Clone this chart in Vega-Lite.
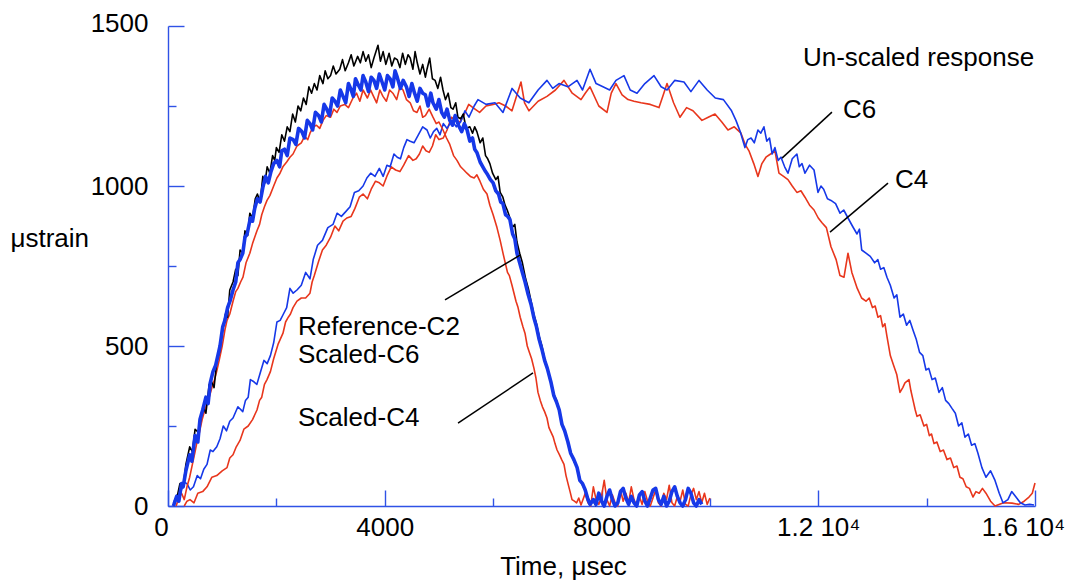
{
  "$schema": "https://vega.github.io/schema/vega-lite/v6.json",
  "width": 867,
  "height": 480,
  "autosize": "none",
  "padding": {"left": 168, "top": 26, "right": 40, "bottom": 76},
  "background": "white",
  "config": {"view": {"stroke": null}, "font": "Liberation Sans"},
  "datasets": {
    "curves": [
      {"s":"RefC2","t":100,"v":0},{"s":"RefC2","t":170,"v":30},{"s":"RefC2","t":220,"v":70},{"s":"RefC2","t":280,"v":60},{"s":"RefC2","t":330,"v":130},{"s":"RefC2","t":400,"v":185},{"s":"RefC2","t":450,"v":170},{"s":"RefC2","t":500,"v":240},{"s":"RefC2","t":560,"v":230},{"s":"RefC2","t":650,"v":310},{"s":"RefC2","t":700,"v":290},{"s":"RefC2","t":760,"v":380},{"s":"RefC2","t":800,"v":390},{"s":"RefC2","t":850,"v":370},{"s":"RefC2","t":900,"v":450},{"s":"RefC2","t":950,"v":480},{"s":"RefC2","t":1000,"v":540},{"s":"RefC2","t":1060,"v":600},{"s":"RefC2","t":1100,"v":590},{"s":"RefC2","t":1140,"v":675},{"s":"RefC2","t":1200,"v":700},{"s":"RefC2","t":1250,"v":740},{"s":"RefC2","t":1290,"v":720},{"s":"RefC2","t":1330,"v":800},{"s":"RefC2","t":1380,"v":790},{"s":"RefC2","t":1420,"v":860},{"s":"RefC2","t":1470,"v":845},{"s":"RefC2","t":1510,"v":915},{"s":"RefC2","t":1560,"v":900},{"s":"RefC2","t":1610,"v":960},{"s":"RefC2","t":1650,"v":975},{"s":"RefC2","t":1700,"v":950},{"s":"RefC2","t":1750,"v":1030},{"s":"RefC2","t":1790,"v":1010},{"s":"RefC2","t":1830,"v":1060},{"s":"RefC2","t":1880,"v":1040},{"s":"RefC2","t":1930,"v":1095},{"s":"RefC2","t":1970,"v":1080},{"s":"RefC2","t":2000,"v":1120},{"s":"RefC2","t":2050,"v":1105},{"s":"RefC2","t":2100,"v":1160},{"s":"RefC2","t":2150,"v":1140},{"s":"RefC2","t":2200,"v":1185},{"s":"RefC2","t":2250,"v":1170},{"s":"RefC2","t":2300,"v":1225},{"s":"RefC2","t":2350,"v":1200},{"s":"RefC2","t":2400,"v":1250},{"s":"RefC2","t":2450,"v":1235},{"s":"RefC2","t":2500,"v":1275},{"s":"RefC2","t":2550,"v":1255},{"s":"RefC2","t":2600,"v":1310},{"s":"RefC2","t":2650,"v":1290},{"s":"RefC2","t":2700,"v":1320},{"s":"RefC2","t":2750,"v":1300},{"s":"RefC2","t":2800,"v":1345},{"s":"RefC2","t":2860,"v":1320},{"s":"RefC2","t":2900,"v":1360},{"s":"RefC2","t":2950,"v":1335},{"s":"RefC2","t":3000,"v":1345},{"s":"RefC2","t":3050,"v":1375},{"s":"RefC2","t":3100,"v":1350},{"s":"RefC2","t":3170,"v":1365},{"s":"RefC2","t":3220,"v":1395},{"s":"RefC2","t":3270,"v":1360},{"s":"RefC2","t":3330,"v":1385},{"s":"RefC2","t":3380,"v":1410},{"s":"RefC2","t":3430,"v":1375},{"s":"RefC2","t":3500,"v":1405},{"s":"RefC2","t":3550,"v":1385},{"s":"RefC2","t":3600,"v":1420},{"s":"RefC2","t":3650,"v":1390},{"s":"RefC2","t":3700,"v":1410},{"s":"RefC2","t":3750,"v":1370},{"s":"RefC2","t":3800,"v":1400},{"s":"RefC2","t":3875,"v":1440},{"s":"RefC2","t":3920,"v":1390},{"s":"RefC2","t":3970,"v":1420},{"s":"RefC2","t":4020,"v":1380},{"s":"RefC2","t":4080,"v":1415},{"s":"RefC2","t":4130,"v":1375},{"s":"RefC2","t":4180,"v":1400},{"s":"RefC2","t":4230,"v":1395},{"s":"RefC2","t":4280,"v":1370},{"s":"RefC2","t":4330,"v":1415},{"s":"RefC2","t":4380,"v":1380},{"s":"RefC2","t":4430,"v":1410},{"s":"RefC2","t":4470,"v":1400},{"s":"RefC2","t":4520,"v":1365},{"s":"RefC2","t":4560,"v":1420},{"s":"RefC2","t":4600,"v":1385},{"s":"RefC2","t":4650,"v":1350},{"s":"RefC2","t":4700,"v":1380},{"s":"RefC2","t":4750,"v":1340},{"s":"RefC2","t":4780,"v":1365},{"s":"RefC2","t":4830,"v":1400},{"s":"RefC2","t":4880,"v":1335},{"s":"RefC2","t":4930,"v":1330},{"s":"RefC2","t":4980,"v":1305},{"s":"RefC2","t":5030,"v":1340},{"s":"RefC2","t":5075,"v":1300},{"s":"RefC2","t":5120,"v":1270},{"s":"RefC2","t":5170,"v":1290},{"s":"RefC2","t":5220,"v":1245},{"s":"RefC2","t":5260,"v":1240},{"s":"RefC2","t":5310,"v":1260},{"s":"RefC2","t":5350,"v":1215},{"s":"RefC2","t":5400,"v":1210},{"s":"RefC2","t":5450,"v":1225},{"s":"RefC2","t":5500,"v":1180},{"s":"RefC2","t":5570,"v":1185},{"s":"RefC2","t":5620,"v":1165},{"s":"RefC2","t":5660,"v":1185},{"s":"RefC2","t":5700,"v":1170},{"s":"RefC2","t":5760,"v":1135},{"s":"RefC2","t":5810,"v":1150},{"s":"RefC2","t":5860,"v":1095},{"s":"RefC2","t":5900,"v":1085},{"s":"RefC2","t":5940,"v":1070},{"s":"RefC2","t":5990,"v":1040},{"s":"RefC2","t":6050,"v":1020},{"s":"RefC2","t":6090,"v":1030},{"s":"RefC2","t":6130,"v":980},{"s":"RefC2","t":6180,"v":965},{"s":"RefC2","t":6220,"v":940},{"s":"RefC2","t":6260,"v":925},{"s":"RefC2","t":6310,"v":900},{"s":"RefC2","t":6350,"v":870},{"s":"RefC2","t":6400,"v":880},{"s":"RefC2","t":6440,"v":825},{"s":"RefC2","t":6490,"v":790},{"s":"RefC2","t":6540,"v":760},{"s":"RefC2","t":6600,"v":710},{"s":"RefC2","t":6650,"v":680},{"s":"RefC2","t":6700,"v":640},{"s":"RefC2","t":6750,"v":600},{"s":"RefC2","t":6800,"v":570},{"s":"RefC2","t":6850,"v":530},{"s":"RefC2","t":6900,"v":500},{"s":"RefC2","t":6950,"v":460},{"s":"RefC2","t":7000,"v":430},{"s":"RefC2","t":7070,"v":385},{"s":"RefC2","t":7120,"v":350},{"s":"RefC2","t":7170,"v":330},{"s":"RefC2","t":7220,"v":300},{"s":"RefC2","t":7270,"v":260},{"s":"RefC2","t":7320,"v":235},{"s":"RefC2","t":7380,"v":200},{"s":"RefC2","t":7430,"v":170},{"s":"RefC2","t":7490,"v":140},{"s":"RefC2","t":7550,"v":120},{"s":"RefC2","t":7600,"v":85},{"s":"RefC2","t":7650,"v":65},{"s":"RefC2","t":7700,"v":50},{"s":"RefC2","t":7750,"v":25},{"s":"RefC2","t":7800,"v":10},{"s":"RefC2","t":7850,"v":15},{"s":"RefC2","t":7900,"v":0},

      {"s":"ScC6","t":100,"v":0},{"s":"ScC6","t":160,"v":30},{"s":"ScC6","t":200,"v":15},{"s":"ScC6","t":250,"v":70},{"s":"ScC6","t":280,"v":60},{"s":"ScC6","t":330,"v":110},{"s":"ScC6","t":400,"v":160},{"s":"ScC6","t":440,"v":140},{"s":"ScC6","t":500,"v":220},{"s":"ScC6","t":550,"v":200},{"s":"ScC6","t":590,"v":270},{"s":"ScC6","t":640,"v":300},{"s":"ScC6","t":700,"v":340},{"s":"ScC6","t":740,"v":320},{"s":"ScC6","t":780,"v":385},{"s":"ScC6","t":830,"v":420},{"s":"ScC6","t":880,"v":440},{"s":"ScC6","t":920,"v":470},{"s":"ScC6","t":960,"v":500},{"s":"ScC6","t":1010,"v":560},{"s":"ScC6","t":1050,"v":580},{"s":"ScC6","t":1100,"v":620},{"s":"ScC6","t":1144,"v":640},{"s":"ScC6","t":1200,"v":675},{"s":"ScC6","t":1250,"v":700},{"s":"ScC6","t":1290,"v":760},{"s":"ScC6","t":1330,"v":770},{"s":"ScC6","t":1380,"v":790},{"s":"ScC6","t":1420,"v":840},{"s":"ScC6","t":1460,"v":850},{"s":"ScC6","t":1520,"v":900},{"s":"ScC6","t":1560,"v":890},{"s":"ScC6","t":1600,"v":930},{"s":"ScC6","t":1650,"v":960},{"s":"ScC6","t":1700,"v":950},{"s":"ScC6","t":1750,"v":995},{"s":"ScC6","t":1800,"v":1030},{"s":"ScC6","t":1850,"v":1010},{"s":"ScC6","t":1900,"v":1045},{"s":"ScC6","t":1950,"v":1070},{"s":"ScC6","t":2010,"v":1080},{"s":"ScC6","t":2060,"v":1060},{"s":"ScC6","t":2100,"v":1110},{"s":"ScC6","t":2150,"v":1115},{"s":"ScC6","t":2200,"v":1095},{"s":"ScC6","t":2250,"v":1150},{"s":"ScC6","t":2310,"v":1145},{"s":"ScC6","t":2360,"v":1130},{"s":"ScC6","t":2410,"v":1180},{"s":"ScC6","t":2470,"v":1170},{"s":"ScC6","t":2520,"v":1150},{"s":"ScC6","t":2570,"v":1205},{"s":"ScC6","t":2620,"v":1195},{"s":"ScC6","t":2670,"v":1175},{"s":"ScC6","t":2720,"v":1230},{"s":"ScC6","t":2780,"v":1220},{"s":"ScC6","t":2830,"v":1200},{"s":"ScC6","t":2880,"v":1255},{"s":"ScC6","t":2930,"v":1240},{"s":"ScC6","t":2980,"v":1220},{"s":"ScC6","t":3030,"v":1275},{"s":"ScC6","t":3080,"v":1265},{"s":"ScC6","t":3130,"v":1250},{"s":"ScC6","t":3180,"v":1300},{"s":"ScC6","t":3230,"v":1280},{"s":"ScC6","t":3280,"v":1260},{"s":"ScC6","t":3330,"v":1320},{"s":"ScC6","t":3370,"v":1305},{"s":"ScC6","t":3420,"v":1280},{"s":"ScC6","t":3460,"v":1335},{"s":"ScC6","t":3500,"v":1320},{"s":"ScC6","t":3560,"v":1300},{"s":"ScC6","t":3600,"v":1345},{"s":"ScC6","t":3650,"v":1325},{"s":"ScC6","t":3700,"v":1295},{"s":"ScC6","t":3750,"v":1340},{"s":"ScC6","t":3800,"v":1330},{"s":"ScC6","t":3850,"v":1305},{"s":"ScC6","t":3900,"v":1350},{"s":"ScC6","t":3950,"v":1325},{"s":"ScC6","t":4000,"v":1300},{"s":"ScC6","t":4050,"v":1345},{"s":"ScC6","t":4100,"v":1335},{"s":"ScC6","t":4150,"v":1310},{"s":"ScC6","t":4190,"v":1360},{"s":"ScC6","t":4230,"v":1340},{"s":"ScC6","t":4290,"v":1305},{"s":"ScC6","t":4340,"v":1330},{"s":"ScC6","t":4400,"v":1310},{"s":"ScC6","t":4450,"v":1280},{"s":"ScC6","t":4500,"v":1320},{"s":"ScC6","t":4550,"v":1290},{"s":"ScC6","t":4600,"v":1265},{"s":"ScC6","t":4650,"v":1305},{"s":"ScC6","t":4700,"v":1290},{"s":"ScC6","t":4750,"v":1285},{"s":"ScC6","t":4800,"v":1250},{"s":"ScC6","t":4850,"v":1290},{"s":"ScC6","t":4890,"v":1260},{"s":"ScC6","t":4950,"v":1240},{"s":"ScC6","t":5000,"v":1270},{"s":"ScC6","t":5050,"v":1230},{"s":"ScC6","t":5100,"v":1215},{"s":"ScC6","t":5150,"v":1240},{"s":"ScC6","t":5200,"v":1205},{"s":"ScC6","t":5250,"v":1190},{"s":"ScC6","t":5300,"v":1220},{"s":"ScC6","t":5360,"v":1190},{"s":"ScC6","t":5420,"v":1170},{"s":"ScC6","t":5470,"v":1195},{"s":"ScC6","t":5520,"v":1175},{"s":"ScC6","t":5570,"v":1140},{"s":"ScC6","t":5620,"v":1150},{"s":"ScC6","t":5660,"v":1115},{"s":"ScC6","t":5700,"v":1105},{"s":"ScC6","t":5760,"v":1075},{"s":"ScC6","t":5810,"v":1060},{"s":"ScC6","t":5860,"v":1045},{"s":"ScC6","t":5900,"v":1035},{"s":"ScC6","t":5950,"v":1020},{"s":"ScC6","t":6000,"v":1010},{"s":"ScC6","t":6050,"v":985},{"s":"ScC6","t":6100,"v":975},{"s":"ScC6","t":6140,"v":950},{"s":"ScC6","t":6180,"v":945},{"s":"ScC6","t":6230,"v":910},{"s":"ScC6","t":6270,"v":905},{"s":"ScC6","t":6310,"v":895},{"s":"ScC6","t":6360,"v":850},{"s":"ScC6","t":6400,"v":835},{"s":"ScC6","t":6440,"v":790},{"s":"ScC6","t":6490,"v":760},{"s":"ScC6","t":6540,"v":730},{"s":"ScC6","t":6590,"v":700},{"s":"ScC6","t":6640,"v":665},{"s":"ScC6","t":6700,"v":630},{"s":"ScC6","t":6750,"v":590},{"s":"ScC6","t":6800,"v":560},{"s":"ScC6","t":6850,"v":520},{"s":"ScC6","t":6900,"v":490},{"s":"ScC6","t":6950,"v":455},{"s":"ScC6","t":7000,"v":430},{"s":"ScC6","t":7070,"v":385},{"s":"ScC6","t":7120,"v":345},{"s":"ScC6","t":7170,"v":325},{"s":"ScC6","t":7220,"v":300},{"s":"ScC6","t":7270,"v":255},{"s":"ScC6","t":7320,"v":235},{"s":"ScC6","t":7380,"v":200},{"s":"ScC6","t":7430,"v":165},{"s":"ScC6","t":7490,"v":145},{"s":"ScC6","t":7550,"v":120},{"s":"ScC6","t":7600,"v":80},{"s":"ScC6","t":7650,"v":70},{"s":"ScC6","t":7700,"v":50},{"s":"ScC6","t":7750,"v":20},{"s":"ScC6","t":7790,"v":5},{"s":"ScC6","t":7850,"v":20},{"s":"ScC6","t":7900,"v":5},{"s":"ScC6","t":7950,"v":40},{"s":"ScC6","t":8000,"v":15},{"s":"ScC6","t":8050,"v":0},{"s":"ScC6","t":8100,"v":30},{"s":"ScC6","t":8150,"v":50},{"s":"ScC6","t":8200,"v":20},{"s":"ScC6","t":8250,"v":0},{"s":"ScC6","t":8300,"v":10},{"s":"ScC6","t":8350,"v":45},{"s":"ScC6","t":8400,"v":55},{"s":"ScC6","t":8450,"v":25},{"s":"ScC6","t":8500,"v":5},{"s":"ScC6","t":8550,"v":30},{"s":"ScC6","t":8600,"v":10},{"s":"ScC6","t":8650,"v":0},{"s":"ScC6","t":8700,"v":35},{"s":"ScC6","t":8750,"v":45},{"s":"ScC6","t":8800,"v":15},{"s":"ScC6","t":8850,"v":0},{"s":"ScC6","t":8900,"v":25},{"s":"ScC6","t":8950,"v":50},{"s":"ScC6","t":9000,"v":55},{"s":"ScC6","t":9050,"v":20},{"s":"ScC6","t":9100,"v":5},{"s":"ScC6","t":9150,"v":30},{"s":"ScC6","t":9200,"v":0},{"s":"ScC6","t":9250,"v":15},{"s":"ScC6","t":9300,"v":45},{"s":"ScC6","t":9350,"v":60},{"s":"ScC6","t":9400,"v":30},{"s":"ScC6","t":9450,"v":10},{"s":"ScC6","t":9500,"v":0},{"s":"ScC6","t":9550,"v":20},{"s":"ScC6","t":9600,"v":55},{"s":"ScC6","t":9650,"v":40},{"s":"ScC6","t":9700,"v":10},{"s":"ScC6","t":9750,"v":0},{"s":"ScC6","t":9800,"v":20},{"s":"ScC6","t":9850,"v":5},

      {"s":"ScC4","t":150,"v":0},{"s":"ScC4","t":200,"v":25},{"s":"ScC4","t":250,"v":40},{"s":"ScC4","t":300,"v":20},{"s":"ScC4","t":350,"v":60},{"s":"ScC4","t":400,"v":90},{"s":"ScC4","t":450,"v":130},{"s":"ScC4","t":500,"v":170},{"s":"ScC4","t":535,"v":200},{"s":"ScC4","t":580,"v":230},{"s":"ScC4","t":630,"v":270},{"s":"ScC4","t":680,"v":300},{"s":"ScC4","t":720,"v":320},{"s":"ScC4","t":770,"v":345},{"s":"ScC4","t":810,"v":370},{"s":"ScC4","t":860,"v":395},{"s":"ScC4","t":904,"v":425},{"s":"ScC4","t":950,"v":460},{"s":"ScC4","t":1000,"v":500},{"s":"ScC4","t":1050,"v":550},{"s":"ScC4","t":1089,"v":580},{"s":"ScC4","t":1140,"v":600},{"s":"ScC4","t":1200,"v":640},{"s":"ScC4","t":1250,"v":670},{"s":"ScC4","t":1290,"v":680},{"s":"ScC4","t":1340,"v":700},{"s":"ScC4","t":1384,"v":715},{"s":"ScC4","t":1440,"v":760},{"s":"ScC4","t":1510,"v":790},{"s":"ScC4","t":1560,"v":820},{"s":"ScC4","t":1600,"v":840},{"s":"ScC4","t":1642,"v":860},{"s":"ScC4","t":1690,"v":880},{"s":"ScC4","t":1730,"v":910},{"s":"ScC4","t":1780,"v":935},{"s":"ScC4","t":1827,"v":955},{"s":"ScC4","t":1880,"v":970},{"s":"ScC4","t":1950,"v":1000},{"s":"ScC4","t":2010,"v":1025},{"s":"ScC4","t":2067,"v":1040},{"s":"ScC4","t":2120,"v":1060},{"s":"ScC4","t":2190,"v":1075},{"s":"ScC4","t":2250,"v":1090},{"s":"ScC4","t":2307,"v":1100},{"s":"ScC4","t":2380,"v":1125},{"s":"ScC4","t":2460,"v":1135},{"s":"ScC4","t":2520,"v":1155},{"s":"ScC4","t":2580,"v":1145},{"s":"ScC4","t":2620,"v":1165},{"s":"ScC4","t":2680,"v":1185},{"s":"ScC4","t":2740,"v":1190},{"s":"ScC4","t":2800,"v":1180},{"s":"ScC4","t":2860,"v":1205},{"s":"ScC4","t":2920,"v":1220},{"s":"ScC4","t":3000,"v":1215},{"s":"ScC4","t":3060,"v":1240},{"s":"ScC4","t":3119,"v":1230},{"s":"ScC4","t":3180,"v":1250},{"s":"ScC4","t":3260,"v":1255},{"s":"ScC4","t":3330,"v":1245},{"s":"ScC4","t":3414,"v":1275},{"s":"ScC4","t":3480,"v":1290},{"s":"ScC4","t":3540,"v":1265},{"s":"ScC4","t":3600,"v":1300},{"s":"ScC4","t":3680,"v":1275},{"s":"ScC4","t":3740,"v":1300},{"s":"ScC4","t":3780,"v":1285},{"s":"ScC4","t":3850,"v":1260},{"s":"ScC4","t":3910,"v":1300},{"s":"ScC4","t":3967,"v":1280},{"s":"ScC4","t":4030,"v":1265},{"s":"ScC4","t":4090,"v":1300},{"s":"ScC4","t":4150,"v":1290},{"s":"ScC4","t":4220,"v":1270},{"s":"ScC4","t":4280,"v":1310},{"s":"ScC4","t":4337,"v":1300},{"s":"ScC4","t":4400,"v":1270},{"s":"ScC4","t":4470,"v":1260},{"s":"ScC4","t":4530,"v":1235},{"s":"ScC4","t":4595,"v":1230},{"s":"ScC4","t":4650,"v":1250},{"s":"ScC4","t":4700,"v":1215},{"s":"ScC4","t":4750,"v":1220},{"s":"ScC4","t":4820,"v":1240},{"s":"ScC4","t":4890,"v":1215},{"s":"ScC4","t":4950,"v":1195},{"s":"ScC4","t":5000,"v":1200},{"s":"ScC4","t":5075,"v":1175},{"s":"ScC4","t":5140,"v":1150},{"s":"ScC4","t":5200,"v":1130},{"s":"ScC4","t":5270,"v":1095},{"s":"ScC4","t":5333,"v":1080},{"s":"ScC4","t":5400,"v":1060},{"s":"ScC4","t":5460,"v":1050},{"s":"ScC4","t":5517,"v":1040},{"s":"ScC4","t":5580,"v":1030},{"s":"ScC4","t":5650,"v":1025},{"s":"ScC4","t":5700,"v":1035},{"s":"ScC4","t":5757,"v":1015},{"s":"ScC4","t":5820,"v":990},{"s":"ScC4","t":5887,"v":975},{"s":"ScC4","t":5940,"v":940},{"s":"ScC4","t":6000,"v":910},{"s":"ScC4","t":6071,"v":870},{"s":"ScC4","t":6130,"v":830},{"s":"ScC4","t":6182,"v":790},{"s":"ScC4","t":6265,"v":730},{"s":"ScC4","t":6300,"v":720},{"s":"ScC4","t":6348,"v":690},{"s":"ScC4","t":6422,"v":640},{"s":"ScC4","t":6460,"v":620},{"s":"ScC4","t":6500,"v":590},{"s":"ScC4","t":6550,"v":560},{"s":"ScC4","t":6588,"v":540},{"s":"ScC4","t":6630,"v":500},{"s":"ScC4","t":6670,"v":480},{"s":"ScC4","t":6710,"v":460},{"s":"ScC4","t":6754,"v":430},{"s":"ScC4","t":6790,"v":400},{"s":"ScC4","t":6828,"v":355},{"s":"ScC4","t":6870,"v":330},{"s":"ScC4","t":6910,"v":310},{"s":"ScC4","t":6950,"v":295},{"s":"ScC4","t":6994,"v":275},{"s":"ScC4","t":7030,"v":245},{"s":"ScC4","t":7070,"v":230},{"s":"ScC4","t":7110,"v":215},{"s":"ScC4","t":7142,"v":195},{"s":"ScC4","t":7180,"v":175},{"s":"ScC4","t":7225,"v":160},{"s":"ScC4","t":7265,"v":145},{"s":"ScC4","t":7308,"v":130},{"s":"ScC4","t":7345,"v":95},{"s":"ScC4","t":7382,"v":70},{"s":"ScC4","t":7420,"v":45},{"s":"ScC4","t":7456,"v":20},{"s":"ScC4","t":7500,"v":15},{"s":"ScC4","t":7540,"v":10},{"s":"ScC4","t":7580,"v":25},{"s":"ScC4","t":7622,"v":3},{"s":"ScC4","t":7700,"v":40},{"s":"ScC4","t":7750,"v":10},{"s":"ScC4","t":7800,"v":0},{"s":"ScC4","t":7850,"v":60},{"s":"ScC4","t":7900,"v":20},{"s":"ScC4","t":7950,"v":5},{"s":"ScC4","t":8000,"v":30},{"s":"ScC4","t":8050,"v":80},{"s":"ScC4","t":8100,"v":20},{"s":"ScC4","t":8150,"v":0},{"s":"ScC4","t":8200,"v":35},{"s":"ScC4","t":8250,"v":10},{"s":"ScC4","t":8300,"v":0},{"s":"ScC4","t":8350,"v":50},{"s":"ScC4","t":8400,"v":15},{"s":"ScC4","t":8450,"v":40},{"s":"ScC4","t":8500,"v":10},{"s":"ScC4","t":8550,"v":60},{"s":"ScC4","t":8600,"v":20},{"s":"ScC4","t":8650,"v":0},{"s":"ScC4","t":8700,"v":30},{"s":"ScC4","t":8750,"v":5},{"s":"ScC4","t":8800,"v":45},{"s":"ScC4","t":8850,"v":15},{"s":"ScC4","t":8900,"v":0},{"s":"ScC4","t":8950,"v":25},{"s":"ScC4","t":9000,"v":50},{"s":"ScC4","t":9050,"v":10},{"s":"ScC4","t":9100,"v":0},{"s":"ScC4","t":9150,"v":40},{"s":"ScC4","t":9200,"v":20},{"s":"ScC4","t":9250,"v":65},{"s":"ScC4","t":9300,"v":10},{"s":"ScC4","t":9350,"v":0},{"s":"ScC4","t":9400,"v":30},{"s":"ScC4","t":9450,"v":15},{"s":"ScC4","t":9500,"v":50},{"s":"ScC4","t":9550,"v":5},{"s":"ScC4","t":9600,"v":0},{"s":"ScC4","t":9650,"v":35},{"s":"ScC4","t":9700,"v":55},{"s":"ScC4","t":9750,"v":20},{"s":"ScC4","t":9800,"v":45},{"s":"ScC4","t":9850,"v":10},{"s":"ScC4","t":9900,"v":40},{"s":"ScC4","t":9950,"v":5},{"s":"ScC4","t":10000,"v":25},

      {"s":"C6","t":100,"v":10},{"s":"C6","t":170,"v":35},{"s":"C6","t":230,"v":40},{"s":"C6","t":290,"v":75},{"s":"C6","t":350,"v":70},{"s":"C6","t":410,"v":50},{"s":"C6","t":470,"v":60},{"s":"C6","t":540,"v":95},{"s":"C6","t":600,"v":85},{"s":"C6","t":660,"v":115},{"s":"C6","t":720,"v":130},{"s":"C6","t":780,"v":175},{"s":"C6","t":830,"v":170},{"s":"C6","t":900,"v":185},{"s":"C6","t":960,"v":210},{"s":"C6","t":1020,"v":250},{"s":"C6","t":1080,"v":235},{"s":"C6","t":1140,"v":265},{"s":"C6","t":1200,"v":275},{"s":"C6","t":1290,"v":310},{"s":"C6","t":1380,"v":295},{"s":"C6","t":1430,"v":330},{"s":"C6","t":1480,"v":340},{"s":"C6","t":1520,"v":395},{"s":"C6","t":1570,"v":390},{"s":"C6","t":1640,"v":380},{"s":"C6","t":1700,"v":415},{"s":"C6","t":1770,"v":455},{"s":"C6","t":1830,"v":445},{"s":"C6","t":1890,"v":470},{"s":"C6","t":1950,"v":510},{"s":"C6","t":2010,"v":575},{"s":"C6","t":2070,"v":580},{"s":"C6","t":2130,"v":600},{"s":"C6","t":2190,"v":620},{"s":"C6","t":2250,"v":680},{"s":"C6","t":2310,"v":665},{"s":"C6","t":2380,"v":675},{"s":"C6","t":2460,"v":690},{"s":"C6","t":2540,"v":730},{"s":"C6","t":2620,"v":710},{"s":"C6","t":2680,"v":770},{"s":"C6","t":2760,"v":815},{"s":"C6","t":2850,"v":830},{"s":"C6","t":2950,"v":870},{"s":"C6","t":3045,"v":880},{"s":"C6","t":3120,"v":915},{"s":"C6","t":3200,"v":905},{"s":"C6","t":3280,"v":920},{"s":"C6","t":3360,"v":935},{"s":"C6","t":3440,"v":980},{"s":"C6","t":3520,"v":985},{"s":"C6","t":3600,"v":1000},{"s":"C6","t":3670,"v":1025},{"s":"C6","t":3740,"v":1040},{"s":"C6","t":3820,"v":1030},{"s":"C6","t":3900,"v":1055},{"s":"C6","t":3970,"v":1030},{"s":"C6","t":4040,"v":1065},{"s":"C6","t":4100,"v":1060},{"s":"C6","t":4170,"v":1100},{"s":"C6","t":4230,"v":1090},{"s":"C6","t":4290,"v":1085},{"s":"C6","t":4350,"v":1120},{"s":"C6","t":4410,"v":1145},{"s":"C6","t":4470,"v":1140},{"s":"C6","t":4540,"v":1135},{"s":"C6","t":4620,"v":1160},{"s":"C6","t":4700,"v":1185},{"s":"C6","t":4780,"v":1175},{"s":"C6","t":4840,"v":1150},{"s":"C6","t":4900,"v":1170},{"s":"C6","t":4960,"v":1180},{"s":"C6","t":5020,"v":1160},{"s":"C6","t":5080,"v":1195},{"s":"C6","t":5150,"v":1180},{"s":"C6","t":5240,"v":1205},{"s":"C6","t":5320,"v":1185},{"s":"C6","t":5400,"v":1200},{"s":"C6","t":5480,"v":1235},{"s":"C6","t":5554,"v":1215},{"s":"C6","t":5650,"v":1250},{"s":"C6","t":5720,"v":1270},{"s":"C6","t":5870,"v":1255},{"s":"C6","t":6034,"v":1260},{"s":"C6","t":6182,"v":1230},{"s":"C6","t":6350,"v":1305},{"s":"C6","t":6500,"v":1275},{"s":"C6","t":6660,"v":1260},{"s":"C6","t":6830,"v":1300},{"s":"C6","t":6994,"v":1330},{"s":"C6","t":7100,"v":1305},{"s":"C6","t":7216,"v":1320},{"s":"C6","t":7380,"v":1310},{"s":"C6","t":7548,"v":1330},{"s":"C6","t":7650,"v":1300},{"s":"C6","t":7788,"v":1365},{"s":"C6","t":7900,"v":1320},{"s":"C6","t":8027,"v":1310},{"s":"C6","t":8150,"v":1300},{"s":"C6","t":8267,"v":1330},{"s":"C6","t":8415,"v":1345},{"s":"C6","t":8530,"v":1300},{"s":"C6","t":8655,"v":1290},{"s":"C6","t":8800,"v":1320},{"s":"C6","t":8969,"v":1345},{"s":"C6","t":9100,"v":1310},{"s":"C6","t":9209,"v":1300},{"s":"C6","t":9350,"v":1330},{"s":"C6","t":9522,"v":1325},{"s":"C6","t":9650,"v":1295},{"s":"C6","t":9800,"v":1330},{"s":"C6","t":9950,"v":1300},{"s":"C6","t":10100,"v":1275},{"s":"C6","t":10250,"v":1270},{"s":"C6","t":10400,"v":1235},{"s":"C6","t":10481,"v":1205},{"s":"C6","t":10560,"v":1170},{"s":"C6","t":10647,"v":1120},{"s":"C6","t":10700,"v":1145},{"s":"C6","t":10760,"v":1150},{"s":"C6","t":10820,"v":1135},{"s":"C6","t":10887,"v":1175},{"s":"C6","t":10940,"v":1165},{"s":"C6","t":10998,"v":1185},{"s":"C6","t":11050,"v":1140},{"s":"C6","t":11100,"v":1150},{"s":"C6","t":11150,"v":1100},{"s":"C6","t":11201,"v":1120},{"s":"C6","t":11260,"v":1080},{"s":"C6","t":11312,"v":1090},{"s":"C6","t":11380,"v":1060},{"s":"C6","t":11441,"v":1040},{"s":"C6","t":11520,"v":1085},{"s":"C6","t":11606,"v":1100},{"s":"C6","t":11650,"v":1060},{"s":"C6","t":11700,"v":1070},{"s":"C6","t":11755,"v":1040},{"s":"C6","t":11840,"v":1065},{"s":"C6","t":11922,"v":1050},{"s":"C6","t":11995,"v":980},{"s":"C6","t":12050,"v":1000},{"s":"C6","t":12100,"v":990},{"s":"C6","t":12170,"v":960},{"s":"C6","t":12235,"v":955},{"s":"C6","t":12320,"v":945},{"s":"C6","t":12401,"v":915},{"s":"C6","t":12470,"v":925},{"s":"C6","t":12549,"v":900},{"s":"C6","t":12630,"v":875},{"s":"C6","t":12715,"v":850},{"s":"C6","t":12760,"v":865},{"s":"C6","t":12802,"v":800},{"s":"C6","t":12881,"v":790},{"s":"C6","t":12960,"v":780},{"s":"C6","t":13040,"v":760},{"s":"C6","t":13100,"v":770},{"s":"C6","t":13150,"v":740},{"s":"C6","t":13210,"v":745},{"s":"C6","t":13268,"v":715},{"s":"C6","t":13330,"v":690},{"s":"C6","t":13400,"v":650},{"s":"C6","t":13450,"v":660},{"s":"C6","t":13508,"v":590},{"s":"C6","t":13570,"v":600},{"s":"C6","t":13630,"v":565},{"s":"C6","t":13690,"v":580},{"s":"C6","t":13748,"v":550},{"s":"C6","t":13810,"v":520},{"s":"C6","t":13870,"v":480},{"s":"C6","t":13930,"v":470},{"s":"C6","t":13988,"v":425},{"s":"C6","t":14040,"v":430},{"s":"C6","t":14100,"v":395},{"s":"C6","t":14160,"v":400},{"s":"C6","t":14228,"v":355},{"s":"C6","t":14290,"v":370},{"s":"C6","t":14350,"v":330},{"s":"C6","t":14410,"v":320},{"s":"C6","t":14468,"v":305},{"s":"C6","t":14530,"v":290},{"s":"C6","t":14590,"v":250},{"s":"C6","t":14650,"v":260},{"s":"C6","t":14707,"v":215},{"s":"C6","t":14770,"v":225},{"s":"C6","t":14830,"v":190},{"s":"C6","t":14890,"v":195},{"s":"C6","t":14947,"v":165},{"s":"C6","t":15020,"v":120},{"s":"C6","t":15095,"v":90},{"s":"C6","t":15180,"v":110},{"s":"C6","t":15262,"v":80},{"s":"C6","t":15340,"v":40},{"s":"C6","t":15409,"v":10},{"s":"C6","t":15500,"v":20},{"s":"C6","t":15570,"v":45},{"s":"C6","t":15649,"v":28},{"s":"C6","t":15730,"v":10},{"s":"C6","t":15815,"v":3},{"s":"C6","t":15900,"v":5},{"s":"C6","t":15981,"v":3},

      {"s":"C4","t":300,"v":0},{"s":"C4","t":350,"v":15},{"s":"C4","t":406,"v":20},{"s":"C4","t":480,"v":10},{"s":"C4","t":550,"v":40},{"s":"C4","t":640,"v":45},{"s":"C4","t":720,"v":60},{"s":"C4","t":810,"v":90},{"s":"C4","t":900,"v":95},{"s":"C4","t":1000,"v":110},{"s":"C4","t":1089,"v":120},{"s":"C4","t":1140,"v":150},{"s":"C4","t":1200,"v":160},{"s":"C4","t":1260,"v":185},{"s":"C4","t":1329,"v":205},{"s":"C4","t":1400,"v":240},{"s":"C4","t":1480,"v":250},{"s":"C4","t":1560,"v":270},{"s":"C4","t":1642,"v":300},{"s":"C4","t":1690,"v":330},{"s":"C4","t":1730,"v":340},{"s":"C4","t":1780,"v":380},{"s":"C4","t":1827,"v":395},{"s":"C4","t":1890,"v":420},{"s":"C4","t":1950,"v":460},{"s":"C4","t":2030,"v":505},{"s":"C4","t":2122,"v":540},{"s":"C4","t":2170,"v":575},{"s":"C4","t":2220,"v":590},{"s":"C4","t":2260,"v":600},{"s":"C4","t":2307,"v":620},{"s":"C4","t":2380,"v":640},{"s":"C4","t":2460,"v":650},{"s":"C4","t":2540,"v":650},{"s":"C4","t":2620,"v":665},{"s":"C4","t":2660,"v":700},{"s":"C4","t":2700,"v":720},{"s":"C4","t":2780,"v":765},{"s":"C4","t":2850,"v":800},{"s":"C4","t":2920,"v":815},{"s":"C4","t":3000,"v":840},{"s":"C4","t":3080,"v":875},{"s":"C4","t":3150,"v":860},{"s":"C4","t":3230,"v":890},{"s":"C4","t":3300,"v":900},{"s":"C4","t":3380,"v":905},{"s":"C4","t":3450,"v":930},{"s":"C4","t":3530,"v":965},{"s":"C4","t":3600,"v":975},{"s":"C4","t":3680,"v":960},{"s":"C4","t":3750,"v":990},{"s":"C4","t":3830,"v":1015},{"s":"C4","t":3900,"v":1010},{"s":"C4","t":3970,"v":1000},{"s":"C4","t":4050,"v":1035},{"s":"C4","t":4120,"v":1060},{"s":"C4","t":4200,"v":1050},{"s":"C4","t":4280,"v":1045},{"s":"C4","t":4350,"v":1065},{"s":"C4","t":4440,"v":1095},{"s":"C4","t":4521,"v":1080},{"s":"C4","t":4580,"v":1085},{"s":"C4","t":4640,"v":1100},{"s":"C4","t":4700,"v":1125},{"s":"C4","t":4761,"v":1110},{"s":"C4","t":4820,"v":1105},{"s":"C4","t":4880,"v":1125},{"s":"C4","t":4940,"v":1160},{"s":"C4","t":5001,"v":1145},{"s":"C4","t":5080,"v":1150},{"s":"C4","t":5150,"v":1175},{"s":"C4","t":5230,"v":1215},{"s":"C4","t":5315,"v":1205},{"s":"C4","t":5390,"v":1200},{"s":"C4","t":5470,"v":1225},{"s":"C4","t":5550,"v":1255},{"s":"C4","t":5628,"v":1245},{"s":"C4","t":5750,"v":1230},{"s":"C4","t":5868,"v":1250},{"s":"C4","t":6000,"v":1255},{"s":"C4","t":6108,"v":1260},{"s":"C4","t":6230,"v":1250},{"s":"C4","t":6348,"v":1235},{"s":"C4","t":6430,"v":1280},{"s":"C4","t":6514,"v":1325},{"s":"C4","t":6580,"v":1260},{"s":"C4","t":6662,"v":1235},{"s":"C4","t":6830,"v":1265},{"s":"C4","t":6994,"v":1280},{"s":"C4","t":7150,"v":1300},{"s":"C4","t":7308,"v":1330},{"s":"C4","t":7460,"v":1290},{"s":"C4","t":7622,"v":1270},{"s":"C4","t":7700,"v":1290},{"s":"C4","t":7788,"v":1310},{"s":"C4","t":7950,"v":1250},{"s":"C4","t":8101,"v":1230},{"s":"C4","t":8180,"v":1290},{"s":"C4","t":8267,"v":1320},{"s":"C4","t":8380,"v":1285},{"s":"C4","t":8489,"v":1270},{"s":"C4","t":8600,"v":1265},{"s":"C4","t":8729,"v":1260},{"s":"C4","t":8900,"v":1255},{"s":"C4","t":9061,"v":1245},{"s":"C4","t":9130,"v":1280},{"s":"C4","t":9209,"v":1320},{"s":"C4","t":9330,"v":1260},{"s":"C4","t":9448,"v":1215},{"s":"C4","t":9570,"v":1245},{"s":"C4","t":9688,"v":1235},{"s":"C4","t":9854,"v":1205},{"s":"C4","t":9970,"v":1215},{"s":"C4","t":10094,"v":1225},{"s":"C4","t":10220,"v":1200},{"s":"C4","t":10334,"v":1175},{"s":"C4","t":10450,"v":1185},{"s":"C4","t":10574,"v":1165},{"s":"C4","t":10650,"v":1130},{"s":"C4","t":10721,"v":1110},{"s":"C4","t":10810,"v":1070},{"s":"C4","t":10887,"v":1030},{"s":"C4","t":10960,"v":1070},{"s":"C4","t":11035,"v":1090},{"s":"C4","t":11120,"v":1100},{"s":"C4","t":11201,"v":1110},{"s":"C4","t":11275,"v":1040},{"s":"C4","t":11360,"v":1030},{"s":"C4","t":11441,"v":1020},{"s":"C4","t":11520,"v":1000},{"s":"C4","t":11606,"v":980},{"s":"C4","t":11680,"v":985},{"s":"C4","t":11755,"v":965},{"s":"C4","t":11840,"v":940},{"s":"C4","t":11922,"v":925},{"s":"C4","t":12000,"v":900},{"s":"C4","t":12069,"v":885},{"s":"C4","t":12150,"v":870},{"s":"C4","t":12235,"v":810},{"s":"C4","t":12330,"v":770},{"s":"C4","t":12401,"v":720},{"s":"C4","t":12475,"v":715},{"s":"C4","t":12549,"v":790},{"s":"C4","t":12620,"v":730},{"s":"C4","t":12720,"v":680},{"s":"C4","t":12800,"v":650},{"s":"C4","t":12881,"v":640},{"s":"C4","t":12940,"v":650},{"s":"C4","t":13000,"v":620},{"s":"C4","t":13050,"v":625},{"s":"C4","t":13102,"v":590},{"s":"C4","t":13150,"v":595},{"s":"C4","t":13190,"v":560},{"s":"C4","t":13230,"v":570},{"s":"C4","t":13268,"v":530},{"s":"C4","t":13330,"v":470},{"s":"C4","t":13390,"v":440},{"s":"C4","t":13450,"v":410},{"s":"C4","t":13508,"v":355},{"s":"C4","t":13560,"v":370},{"s":"C4","t":13600,"v":385},{"s":"C4","t":13674,"v":395},{"s":"C4","t":13710,"v":360},{"s":"C4","t":13750,"v":330},{"s":"C4","t":13790,"v":300},{"s":"C4","t":13822,"v":280},{"s":"C4","t":13880,"v":285},{"s":"C4","t":13950,"v":250},{"s":"C4","t":14000,"v":255},{"s":"C4","t":14050,"v":220},{"s":"C4","t":14090,"v":225},{"s":"C4","t":14136,"v":195},{"s":"C4","t":14190,"v":200},{"s":"C4","t":14250,"v":170},{"s":"C4","t":14310,"v":175},{"s":"C4","t":14376,"v":145},{"s":"C4","t":14440,"v":150},{"s":"C4","t":14500,"v":120},{"s":"C4","t":14560,"v":125},{"s":"C4","t":14615,"v":90},{"s":"C4","t":14670,"v":85},{"s":"C4","t":14730,"v":60},{"s":"C4","t":14790,"v":55},{"s":"C4","t":14855,"v":28},{"s":"C4","t":14910,"v":45},{"s":"C4","t":14970,"v":40},{"s":"C4","t":15030,"v":55},{"s":"C4","t":15095,"v":40},{"s":"C4","t":15180,"v":15},{"s":"C4","t":15262,"v":0},{"s":"C4","t":15420,"v":10},{"s":"C4","t":15575,"v":9},{"s":"C4","t":15700,"v":5},{"s":"C4","t":15800,"v":15},{"s":"C4","t":15889,"v":28},{"s":"C4","t":15950,"v":40},{"s":"C4","t":16000,"v":72}
    ],
    "notes": [
      {"label":"Un-scaled response","t":11718,"v":1400},
      {"label":"C6","t":12456,"v":1237},
      {"label":"C4","t":13416,"v":1019},
      {"label":"Reference-C2","t":2399,"v":559},
      {"label":"Scaled-C6","t":2399,"v":472},
      {"label":"Scaled-C4","t":2399,"v":275}
    ],
    "leaders": [
      {"t":5112,"v":644,"t2":6496,"v2":784},
      {"t":5352,"v":259,"t2":6736,"v2":416},
      {"t":12253,"v":1231,"t2":11331,"v2":1087},
      {"t":13287,"v":1009,"t2":12217,"v2":856}
    ]
  },
  "encoding": {
    "x": {
      "field": "t", "type": "quantitative",
      "scale": {"domain": [0, 16000], "nice": false, "zero": true},
      "axis": {
        "title": "Time, μsec",
        "values": [0, 2000, 4000, 6000, 8000, 10000, 12000, 14000, 16000],
        "format": "d",
        "labelExpr": "datum.value % 4000 !== 0 ? '' : (datum.value >= 10000 ? format(datum.value / 10000, '.1f') + ' 10⁴' : datum.label)",
        "grid": false,
        "domainColor": "#2f52e6", "domainWidth": 1.4,
        "tickColor": "#2f52e6", "tickWidth": 1.4,
        "tickSize": {"condition": {"test": "datum.value % 4000 === 0", "value": -16}, "value": -8},
        "labelFontSize": 26, "labelColor": "#000000", "labelFont": "Liberation Sans",
        "labelPadding": 24,
        "labelOffset": {"condition": [{"test": "datum.value === 0", "value": -7}, {"test": "datum.value === 16000", "value": -12}], "value": 0},
        "labelFlush": false, "labelOverlap": false, "labelBound": false,
        "titleFontSize": 26, "titleFontWeight": "normal", "titleColor": "#000000", "titleFont": "Liberation Sans",
        "titleX": 395, "titleY": 60, "titleAlign": "center", "titleBaseline": "middle"
      }
    },
    "y": {
      "field": "v", "type": "quantitative",
      "scale": {"domain": [0, 1500], "nice": false},
      "axis": {
        "title": "μstrain",
        "values": [0, 250, 500, 750, 1000, 1250, 1500],
        "format": "d",
        "labelExpr": "datum.value % 500 === 0 ? datum.label : ''",
        "grid": false,
        "domainColor": "#2f52e6", "domainWidth": 1.4,
        "tickColor": "#2f52e6", "tickWidth": 1.4,
        "tickSize": {"condition": {"test": "datum.value % 500 === 0", "value": -16}, "value": -8},
        "labelFontSize": 26, "labelColor": "#000000", "labelFont": "Liberation Sans",
        "labelPadding": 36,
        "labelOffset": {"condition": {"test": "datum.value === 1500", "value": -3}, "value": 0},
        "labelFlush": false, "labelOverlap": false, "labelBound": false,
        "titleFontSize": 26, "titleFontWeight": "normal", "titleColor": "#000000", "titleFont": "Liberation Sans",
        "titleAngle": 0, "titleX": -158, "titleY": 212, "titleAlign": "left", "titleBaseline": "middle"
      }
    }
  },
  "layer": [
    {"data": {"name": "curves"}, "transform": [{"filter": "datum.s === 'C4'"}], "mark": {"type": "line", "color": "#e8361c", "strokeWidth": 1.6, "strokeJoin": "round"}},
    {"data": {"name": "curves"}, "transform": [{"filter": "datum.s === 'C6'"}], "mark": {"type": "line", "color": "#1638e8", "strokeWidth": 1.6, "strokeJoin": "round"}},
    {"data": {"name": "curves"}, "transform": [{"filter": "datum.s === 'ScC4'"}], "mark": {"type": "line", "color": "#e8361c", "strokeWidth": 1.6, "strokeJoin": "round"}},
    {"data": {"name": "curves"}, "transform": [{"filter": "datum.s === 'RefC2'"}], "mark": {"type": "line", "color": "#000000", "strokeWidth": 1.6, "strokeJoin": "round"}},
    {"data": {"name": "curves"}, "transform": [{"filter": "datum.s === 'ScC6'"}], "mark": {"type": "line", "color": "#1638e8", "strokeWidth": 3.6, "strokeJoin": "round"}},
    {"data": {"name": "leaders"}, "mark": {"type": "rule", "color": "#000000", "strokeWidth": 1.5},
     "encoding": {"x2": {"field": "t2"}, "y2": {"field": "v2"}}},
    {"data": {"name": "notes"}, "mark": {"type": "text", "align": "left", "baseline": "middle", "fontSize": 26, "font": "Liberation Sans", "color": "#000000"},
     "encoding": {"text": {"field": "label"}}}
  ]
}
